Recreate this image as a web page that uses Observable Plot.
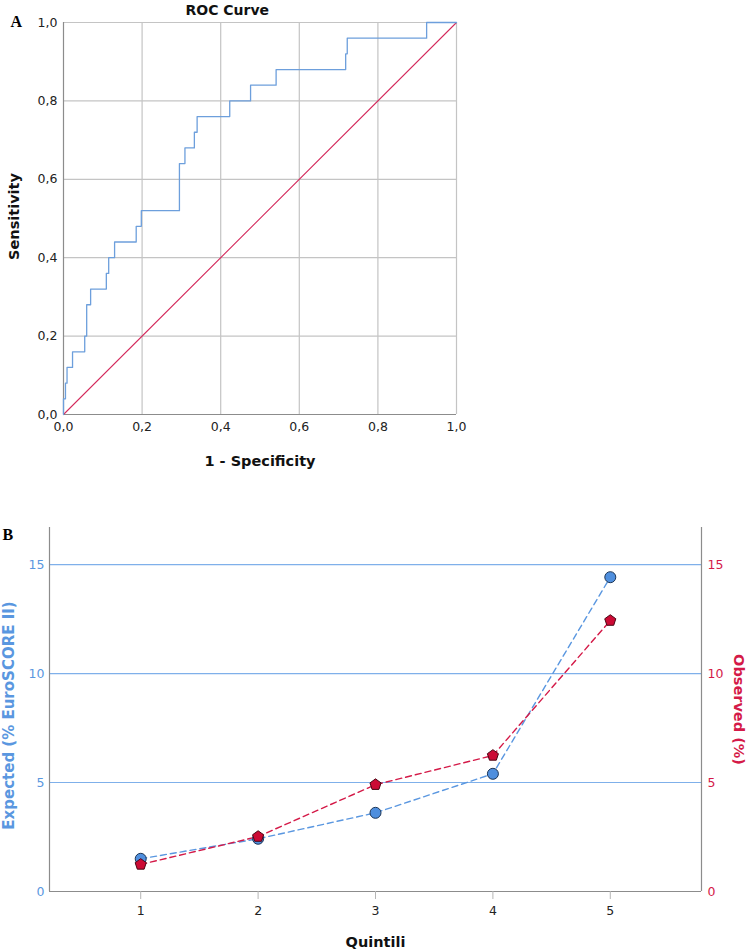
<!DOCTYPE html>
<html>
<head>
<meta charset="utf-8">
<script src="https://cdn.jsdelivr.net/npm/d3@7"></script>
<script src="https://cdn.jsdelivr.net/npm/@observablehq/plot@0.6"></script>
<style>
  html, body { margin: 0; padding: 0; background: #fff; }
  #a, #b { display: block; width: 750px; }
  svg { display: block; }
</style>
</head>
<body>
<div id="a"></div>
<div id="b"></div>
<script>
// ---------- Panel A: ROC curve ----------
const rocFpr = [0, 0, 0.005, 0.009, 0.023, 0.054, 0.059, 0.069, 0.109, 0.115, 0.13, 0.185, 0.198, 0.295, 0.309, 0.333, 0.34, 0.423, 0.476, 0.541, 0.718, 0.722, 0.924, 1.0];
const rocTpr = [0, 0.04, 0.08, 0.12, 0.16, 0.20, 0.28, 0.32, 0.36, 0.40, 0.44, 0.48, 0.52, 0.64, 0.68, 0.72, 0.76, 0.80, 0.84, 0.88, 0.92, 0.96, 1.0, 1.0];
const refX = [0, 1];
const refY = [0, 1];
const rocTicks = [0, 0.2, 0.4, 0.6, 0.8, 1.0];
const rocTitle = "ROC Curve";
const rocXLabel = "1 - Specificity";
const rocYLabel = "Sensitivity";

// ---------- Panel B: calibration ----------
const quintili = [1, 2, 3, 4, 5];
const expected = [1.5, 2.42, 3.61, 5.4, 14.42];
const observed = [1.24, 2.52, 4.9, 6.24, 12.43];
const bTicks = [0, 5, 10, 15];
const bGrid = [5, 10, 15];
const bXLabel = "Quintili";
const bYLeftLabel = "Expected (% EuroSCORE II)";
const bYRightLabel = "Observed (%)";

const roc = rocFpr.map((x, i) => ({x, y: rocTpr[i]}));
const ref = refX.map((x, i) => ({x, y: refY[i]}));
const fmt = d => d.toFixed(1).replace(".", ",");

const plotA = Plot.plot({
  width: 750,
  height: 480,
  marginLeft: 63,
  marginRight: 294,
  marginTop: 22,
  marginBottom: 66,
  style: {fontFamily: "'DejaVu Sans', sans-serif", fontSize: "12.5px", color: "#222", background: "#fff"},
  x: {domain: [0, 1]},
  y: {domain: [0, 1]},
  marks: [
    Plot.gridX(rocTicks.slice(1), {stroke: "#c4c4c4", strokeOpacity: 1, strokeWidth: 1.2}),
    Plot.gridY(rocTicks.slice(1), {stroke: "#c4c4c4", strokeOpacity: 1, strokeWidth: 1.2}),
    Plot.ruleX([0], {stroke: "#8c8c8c", strokeWidth: 1.2}),
    Plot.ruleY([0], {stroke: "#8c8c8c", strokeWidth: 1.2}),
    Plot.axisX(rocTicks, {tickSize: 0, tickPadding: 8, tickFormat: fmt, label: null, fill: "#222", fontSize: 12.5}),
    Plot.axisY(rocTicks, {tickSize: 0, tickPadding: 6, tickFormat: fmt, label: null, fill: "#222", fontSize: 12.5}),
    Plot.line(ref, {x: "x", y: "y", stroke: "#d42a5c", strokeWidth: 1.1}),
    Plot.line(roc, {x: "x", y: "y", curve: "step-after", stroke: "#6d9fdc", strokeWidth: 1.3}),
    Plot.text([rocTitle], {frameAnchor: "top-left", dx: 122, dy: -8, textAnchor: "start", lineAnchor: "bottom", fontWeight: "bold", fontSize: 14, fill: "#111"}),
    Plot.text([rocXLabel], {frameAnchor: "bottom", dy: 51, lineAnchor: "bottom", fontWeight: "bold", fontSize: 14.5, fill: "#111"}),
    Plot.text([rocYLabel], {frameAnchor: "left", dx: -49, dy: -2, textAnchor: "middle", rotate: -90, fontWeight: "bold", fontSize: 14.5, fill: "#111"}),
    Plot.text(["A"], {frameAnchor: "top-left", dx: -53, dy: 4, lineAnchor: "bottom", fontWeight: "bold", fontSize: 16, fontFamily: "'Liberation Serif', serif", fill: "#000", textAnchor: "start"})
  ]
});
document.getElementById("a").appendChild(plotA);

// pentagon symbol
const pentagon = {
  draw(context, size) {
    const r = Math.sqrt(size / Math.PI) * 1.12;
    for (let i = 0; i < 5; i++) {
      const a = -Math.PI / 2 + i * 2 * Math.PI / 5;
      const px = r * Math.cos(a), py = r * Math.sin(a);
      if (i === 0) context.moveTo(px, py); else context.lineTo(px, py);
    }
    context.closePath();
  }
};

const expData = quintili.map((q, i) => ({q, v: expected[i]}));
const obsData = quintili.map((q, i) => ({q, v: observed[i]}));

const blue = "#5a97e0";
const red = "#d41a48";

const plotB = Plot.plot({
  width: 750,
  height: 472,
  marginLeft: 49,
  marginRight: 49,
  marginTop: 47,
  marginBottom: 61,
  style: {fontFamily: "'DejaVu Sans', sans-serif", fontSize: "12.5px", background: "#fff"},
  x: {domain: [0.223, 5.777]},
  y: {domain: [0, 16.7]},
  marks: [
    Plot.gridY(bGrid, {stroke: "#7fb0ea", strokeOpacity: 1, strokeWidth: 1.2}),
    Plot.ruleX([0.223, 5.777], {stroke: "#8c8c8c", strokeWidth: 1.2}),
    Plot.ruleY([0], {stroke: "#8c8c8c", strokeWidth: 1.2}),
    Plot.axisX(quintili, {tickSize: 8, tickPadding: 7, stroke: "#b5b5b5", fill: "#222", label: null, fontSize: 12.5, tickFormat: d => String(d)}),
    Plot.axisY(bTicks, {anchor: "left", tickSize: 0, tickPadding: 5, fill: blue, label: null, fontSize: 12.5}),
    Plot.axisY(bTicks, {anchor: "right", tickSize: 0, tickPadding: 6, fill: red, label: null, fontSize: 12.5}),
    Plot.line(expData, {x: "q", y: "v", stroke: blue, strokeWidth: 1.4, strokeDasharray: "6,4"}),
    Plot.line(obsData, {x: "q", y: "v", stroke: red, strokeWidth: 1.4, strokeDasharray: "6,4"}),
    Plot.dot(expData, {x: "q", y: "v", r: 5.5, fill: "#4f8fde", stroke: "#1c3556", strokeWidth: 1}),
    Plot.dot(obsData, {x: "q", y: "v", r: 5.2, symbol: pentagon, fill: "#cc0a34", stroke: "#4a0614", strokeWidth: 1}),
    Plot.text([bXLabel], {frameAnchor: "bottom", dy: 55, lineAnchor: "bottom", fontWeight: "bold", fontSize: 14.5, fill: "#111"}),
    Plot.text([bYLeftLabel], {frameAnchor: "left", dx: -40, dy: 6, textAnchor: "middle", rotate: -90, fontWeight: "bold", fontSize: 15, fill: blue}),
    Plot.text([bYRightLabel], {frameAnchor: "right", dx: 37, dy: 0, textAnchor: "middle", rotate: 90, fontWeight: "bold", fontSize: 14.5, fill: red}),
    Plot.text(["B"], {frameAnchor: "top-left", dx: -47, dy: 12, lineAnchor: "bottom", fontWeight: "bold", fontSize: 16, fontFamily: "'Liberation Serif', serif", fill: "#000", textAnchor: "start"})
  ]
});
document.getElementById("b").appendChild(plotB);
</script>
</body>
</html>
